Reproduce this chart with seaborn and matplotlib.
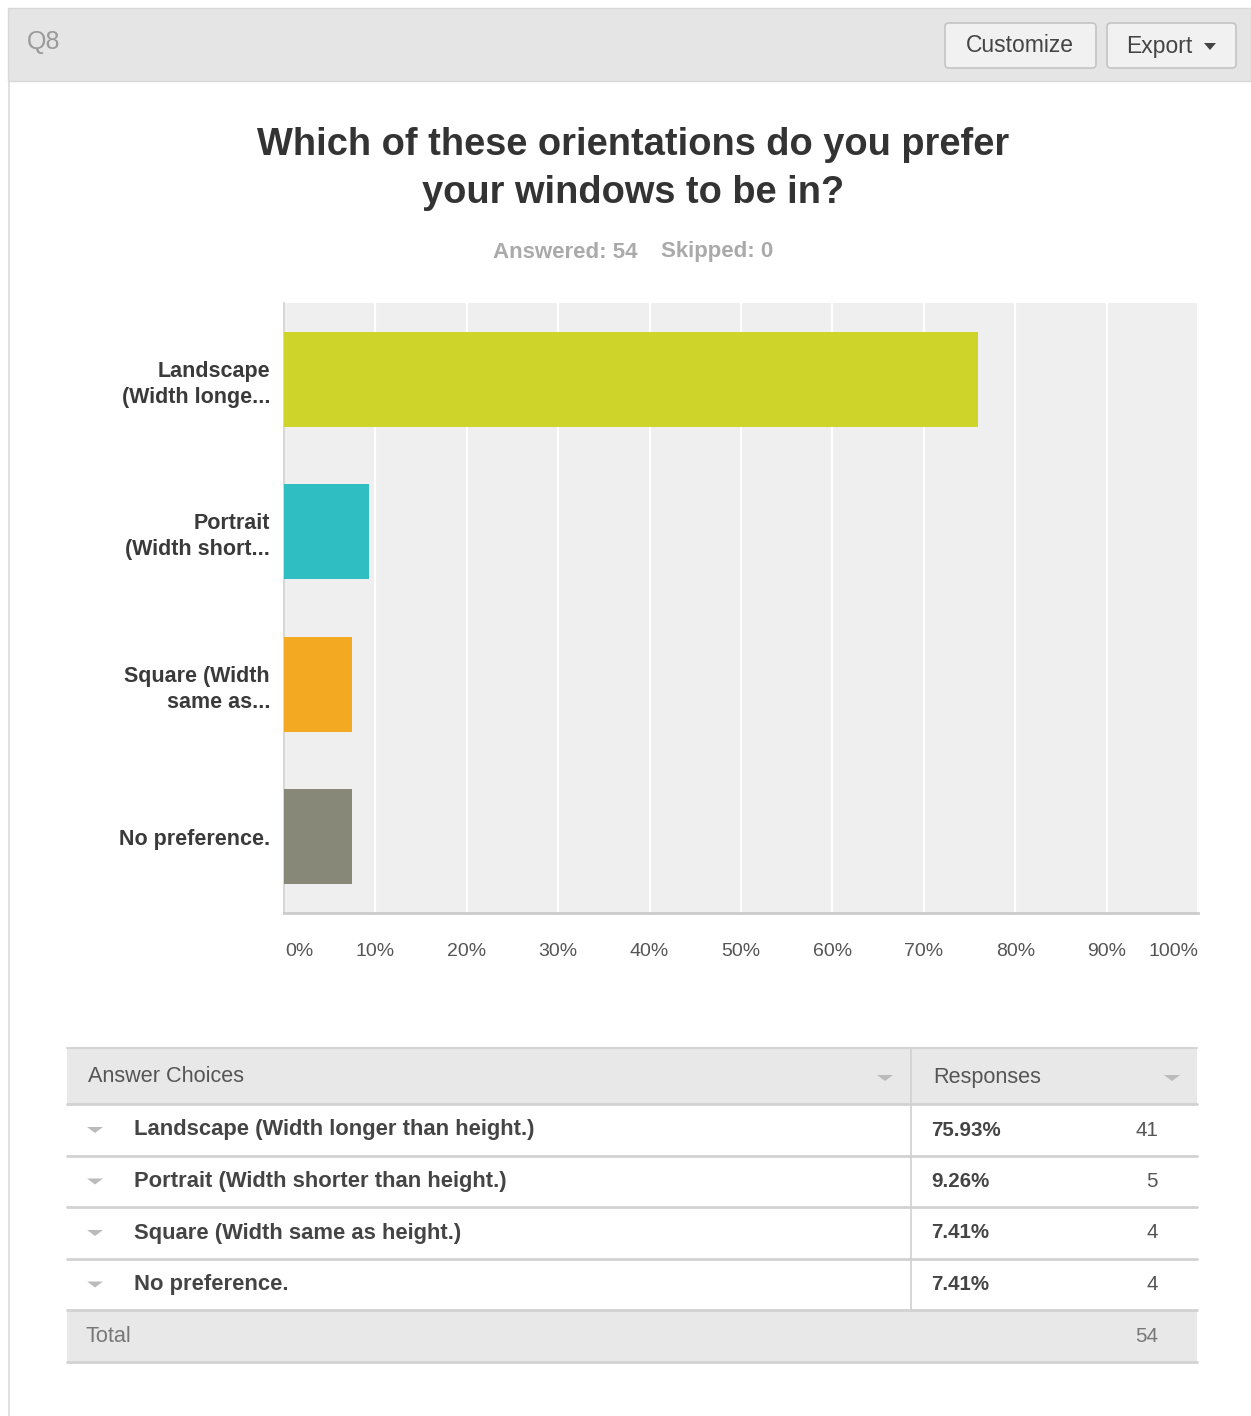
import matplotlib
matplotlib.use("Agg")
import matplotlib.pyplot as plt
from matplotlib.patches import Rectangle, FancyBboxPatch, Polygon
import seaborn as sns
import pandas as pd

# Survey results
short_labels = ["Landscape\n(Width longe...", "Portrait\n(Width short...",
                "Square (Width\nsame as...", "No preference."]
full_labels = ["Landscape (Width longer than height.)",
               "Portrait (Width shorter than height.)",
               "Square (Width same as height.)",
               "No preference."]
percents = [75.93, 9.26, 7.41, 7.41]
counts = [41, 5, 4, 4]
total = 54
skipped = 0
bar_colors = ["#cfd42a", "#2fbfc3", "#f3a922", "#888878"]
xtick_values = [0, 10, 20, 30, 40, 50, 60, 70, 80, 90, 100]
xtick_labels = [f"{v}%" for v in xtick_values]

sns.set_theme(style="white")
plt.rcParams["font.family"] = ["Liberation Sans", "DejaVu Sans"]

W, H = 1251, 1416
fig = plt.figure(figsize=(W / 100, H / 100), dpi=100)
fig.patch.set_facecolor("white")

# Page layer in pixel coordinates
bg = fig.add_axes([0, 0, 1, 1], zorder=0)
bg.set_xlim(0, W)
bg.set_ylim(H, 0)
bg.axis("off")

# Header strip
bg.add_patch(Rectangle((8, 8), W - 8, 73, facecolor="#e5e5e5", edgecolor="#d8d8d8", lw=1))
bg.plot([8.5, 8.5], [80, H], color="#dcdcdc", lw=1.2)
bg.text(27, 42, "Q8", fontsize=18, color="#9a9a9a", va="center", ha="left")

# Buttons
for x0, w in [(945, 151), (1107, 129)]:
    bg.add_patch(FancyBboxPatch((x0, 23), w, 45, boxstyle="round,pad=0,rounding_size=4",
                                facecolor="#f1f1f1", edgecolor="#c4c4c4", lw=1.2))
bg.text(1020, 46, "Customize", fontsize=16.5, color="#444444", ha="center", va="center")
bg.text(1126, 46, "Export", fontsize=16.5, color="#444444", ha="left", va="center")
bg.add_patch(Polygon([[1204, 43], [1216, 43], [1210, 50]], closed=True, facecolor="#444444", edgecolor="none"))

# Title and subtitle
bg.text(633, 169, "Which of these orientations do you prefer\nyour windows to be in?",
        fontsize=27.4, fontweight="bold", color="#333333", ha="center", va="center",
        linespacing=1.42)
bg.text(565, 252, f"Answered: {total}", fontsize=16, fontweight="bold", color="#aaaaaa",
        ha="center", va="center")
bg.text(717, 252, f"Skipped: {skipped}", fontsize=16, fontweight="bold", color="#aaaaaa",
        ha="center", va="center")

# Bar chart
ax = fig.add_axes([284 / W, 1 - 913 / H, 914 / W, 610 / H], zorder=1)
df = pd.DataFrame({"choice": short_labels, "pct": percents})
sns.barplot(data=df, x="pct", y="choice", hue="choice", palette=bar_colors,
            orient="h", width=0.62, saturation=1, legend=False, ax=ax, zorder=3,
            linewidth=0)
ax.set_facecolor("#efefef")
ax.set_xlim(0, 100)
ax.set_ylim(3.5, -0.5)
ax.set_xticks(xtick_values)
ax.set_xticklabels([])
ax.xaxis.grid(True, color="white", lw=1.6, zorder=1)
ax.set_axisbelow(True)
for s in ["top", "right"]:
    ax.spines[s].set_visible(False)
ax.spines["left"].set_color("#cfcfcf")
ax.spines["left"].set_linewidth(1.2)
ax.spines["bottom"].set_color("#cccccc")
ax.spines["bottom"].set_linewidth(2)
ax.tick_params(axis="both", length=0)
ax.set_xlabel("")
ax.set_ylabel("")
ax.set_yticks(range(len(short_labels)))
ax.set_yticklabels(short_labels, fontsize=15.5, fontweight="bold", color="#3a3a3a",
                   linespacing=1.3)
ax.tick_params(axis="y", pad=10)

# Percent tick labels, first and last aligned to the plot edges
for v, lab in zip(xtick_values, xtick_labels):
    ha = "left" if v == 0 else ("right" if v == 100 else "center")
    xpix = 284 + 914 * v / 100
    if v == 0:
        xpix += 1
    bg.text(xpix, 951, lab, fontsize=14, color="#555555", ha=ha, va="center")

# Summary table
tx0, tx1 = 67, 1197
div_x = 911
row_top = [1048, 1104, 1156, 1207, 1259, 1310]
row_bot = [1104, 1156, 1207, 1259, 1310, 1362]

bg.add_patch(Rectangle((tx0, 1048), tx1 - tx0, 56, facecolor="#e8e8e8", edgecolor="none"))
bg.add_patch(Rectangle((tx0, 1310), tx1 - tx0, 52, facecolor="#e8e8e8", edgecolor="none"))
bg.plot([tx0, tx1], [1048, 1048], color="#d4d4d4", lw=1.5)
for yb in row_bot:
    bg.plot([tx0, tx1], [yb, yb], color="#d2d2d2", lw=2)
bg.plot([div_x, div_x], [1048, 1310], color="#d0d0d0", lw=1.2)

bg.text(88, 1077, "Answer Choices", fontsize=15.6, color="#555555", ha="left", va="center")
bg.text(933, 1077, "Responses", fontsize=15.6, color="#555555", ha="left", va="center")
for cx in (885, 1172):
    bg.add_patch(Polygon([[cx - 8, 1075], [cx + 8, 1075], [cx, 1081]], closed=True,
                         facecolor="#bbbbbb", edgecolor="none"))

for i, (lab, p, c) in enumerate(zip(full_labels, percents, counts)):
    yc = (row_top[i + 1] + row_bot[i + 1]) / 2
    bg.add_patch(Polygon([[87, yc - 3], [103, yc - 3], [95, yc + 3]], closed=True,
                         facecolor="#bbbbbb", edgecolor="none"))
    bg.text(134, yc, lab, fontsize=15.8, fontweight="bold", color="#444444",
            ha="left", va="center")
    bg.text(931, yc, f"{p:.2f}%", fontsize=14.8, fontweight="bold", color="#444444",
            ha="left", va="center")
    bg.text(1158, yc, str(c), fontsize=14.8, color="#555555", ha="right", va="center")

bg.text(86, 1336, "Total", fontsize=15.6, color="#777777", ha="left", va="center")
bg.text(1158, 1336, str(total), fontsize=14.8, color="#777777", ha="right", va="center")

fig.savefig("out.png", dpi=100, facecolor="white")
